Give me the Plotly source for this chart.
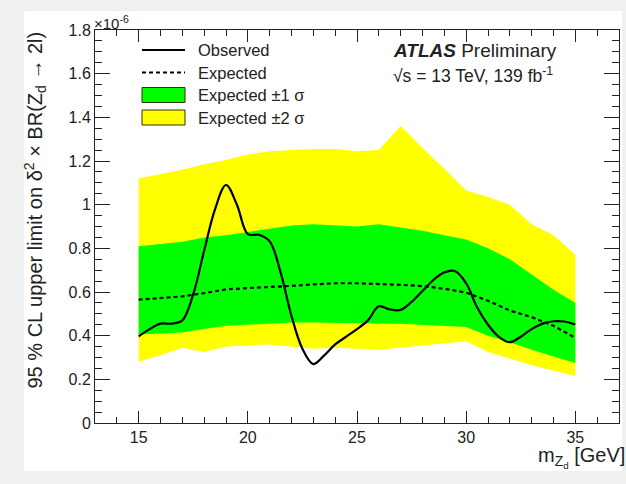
import plotly.graph_objects as go

# Dark-photon mass points (GeV)
mass = [15, 16, 17, 18, 19, 20, 21, 22, 23, 24, 25, 26, 27, 28, 29, 30, 31, 32, 33, 34, 35]

# Expected limit and its bands, in units of 1e-6
expected = [0.565, 0.573, 0.58, 0.595, 0.612, 0.618, 0.622, 0.628, 0.635, 0.64, 0.64,
            0.637, 0.633, 0.627, 0.615, 0.597, 0.56, 0.515, 0.485, 0.445, 0.39]
plus1 = [0.81, 0.82, 0.83, 0.85, 0.86, 0.875, 0.89, 0.905, 0.91, 0.905, 0.90,
         0.91, 0.895, 0.88, 0.86, 0.84, 0.80, 0.75, 0.68, 0.61, 0.55]
minus1 = [0.405, 0.41, 0.415, 0.43, 0.445, 0.45, 0.455, 0.46, 0.46, 0.458, 0.458,
          0.456, 0.455, 0.45, 0.445, 0.44, 0.40, 0.37, 0.335, 0.305, 0.275]
plus2 = [1.12, 1.14, 1.16, 1.185, 1.205, 1.23, 1.245, 1.25, 1.255, 1.255, 1.245,
         1.25, 1.36, 1.26, 1.165, 1.065, 1.035, 1.0, 0.91, 0.86, 0.77]
minus2 = [0.28, 0.31, 0.345, 0.325, 0.35, 0.355, 0.36, 0.35, 0.34, 0.345, 0.34,
          0.335, 0.345, 0.355, 0.365, 0.375, 0.325, 0.295, 0.265, 0.24, 0.215]

# Observed limit, finer mass scan (units of 1e-6)
obs_mass = [15.0, 15.5, 16.0, 16.5, 17.0, 17.5, 18.0, 18.5, 19.0, 19.5, 20.0, 20.5, 21.0,
            21.5, 22.0, 22.5, 23.0, 23.5, 24.0, 24.5, 25.0, 25.5, 26.0, 26.5, 27.0, 27.5,
            28.0, 28.5, 29.0, 29.5, 30.0, 30.5, 31.0, 31.5, 32.0, 32.5, 33.0, 33.5, 34.0,
            34.5, 35.0]
observed = [0.397, 0.43, 0.455, 0.455, 0.47, 0.59, 0.79, 0.98, 1.09, 1.0, 0.865, 0.862, 0.832,
            0.69, 0.49, 0.34, 0.27, 0.31, 0.36, 0.395, 0.43, 0.47, 0.535, 0.52, 0.518, 0.555,
            0.605, 0.655, 0.69, 0.695, 0.64, 0.53, 0.45, 0.395, 0.37, 0.395, 0.43, 0.455, 0.466,
            0.465, 0.451]

y_ticks = [0, 0.2, 0.4, 0.6, 0.8, 1.0, 1.2, 1.4, 1.6, 1.8]
y_tick_text = ["0", "0.2", "0.4", "0.6", "0.8", "1", "1.2", "1.4", "1.6", "1.8"]
x_ticks = [15, 20, 25, 30, 35]

GREEN = "#00ff00"
YELLOW = "#ffff00"
FONT = "Liberation Sans, Arial, Helvetica, sans-serif"
INK = "#222222"


def band(x, lo, hi, color):
    return go.Scatter(
        x=list(x) + list(x)[::-1],
        y=list(hi) + list(lo)[::-1],
        fill="toself", fillcolor=color, mode="lines",
        line=dict(width=0, color=color), hoverinfo="skip", showlegend=False,
    )


fig = go.Figure()
fig.add_trace(band(mass, minus2, plus2, YELLOW))
fig.add_trace(band(mass, minus1, plus1, GREEN))
fig.add_trace(go.Scatter(x=mass, y=expected, mode="lines", showlegend=False,
                         line=dict(color="black", width=2.2, dash="4px,3px")))
fig.add_trace(go.Scatter(x=obs_mass, y=observed, mode="lines", showlegend=False,
                         line=dict(color="black", width=2.2, shape="spline", smoothing=1.0)))

W, H = 626, 484
L, R, T, B = 95, 7, 30, 61
pw, ph = W - L - R, H - T - B


def px(xp):
    return (xp - L) / pw


def py(yp):
    return (H - B - yp) / ph


shapes = [
    # white panel behind the figure
    dict(type="rect", xref="paper", yref="paper", x0=px(24), x1=px(622), y0=py(471), y1=py(11),
         fillcolor="white", line=dict(width=0), layer="below"),
]
annotations = []

# legend
legend_rows = [("Observed", "solid"), ("Expected", "dash"),
               ("Expected \u00b11 \u03c3", GREEN), ("Expected \u00b12 \u03c3", YELLOW)]
row_y = [50, 72.5, 95, 117.5]
for (label, kind), yy in zip(legend_rows, row_y):
    if kind == "solid":
        shapes.append(dict(type="line", xref="paper", yref="paper", x0=px(142), x1=px(185),
                           y0=py(yy), y1=py(yy), line=dict(color="black", width=2.2)))
    elif kind == "dash":
        shapes.append(dict(type="line", xref="paper", yref="paper", x0=px(142), x1=px(185),
                           y0=py(yy), y1=py(yy), line=dict(color="black", width=2.2, dash="4px,3px")))
    else:
        shapes.append(dict(type="rect", xref="paper", yref="paper", x0=px(142), x1=px(185),
                           y0=py(yy + 7.5), y1=py(yy - 7.5), fillcolor=kind,
                           line=dict(color="#333300", width=1)))
    annotations.append(dict(text=label, xref="paper", yref="paper", x=px(196), y=py(yy),
                            xanchor="left", yanchor="middle", showarrow=False,
                            font=dict(family=FONT, size=16.5, color=INK)))

annotations += [
    dict(text="<b><i>ATLAS</i></b> Preliminary", xref="paper", yref="paper",
         x=px(391), y=py(51), xanchor="left", yanchor="middle", showarrow=False,
         font=dict(family=FONT, size=19, color=INK)),
    dict(text="\u221as = 13 TeV, 139 fb<sup>-1</sup>", xref="paper", yref="paper",
         x=px(391), y=py(75), xanchor="left", yanchor="middle", showarrow=False,
         font=dict(family=FONT, size=17.5, color=INK)),
    dict(text="\u00d710<sup>-6</sup>", xref="paper", yref="paper",
         x=px(92), y=py(22), xanchor="left", yanchor="middle", showarrow=False,
         font=dict(family=FONT, size=15, color=INK)),
    dict(text="m<sub>Z<sub>d</sub></sub> [GeV]", xref="paper", yref="paper",
         x=px(536), y=py(457), xanchor="left", yanchor="middle", showarrow=False,
         font=dict(family=FONT, size=20, color=INK)),
    dict(text="95 % CL upper limit on \u03b4<sup>2</sup> \u00d7 BR(Z<sub>d</sub> \u2192 2l)",
         xref="paper", yref="paper", x=px(35), y=1.0, xanchor="center", yanchor="top",
         textangle=-90, showarrow=False, font=dict(family=FONT, size=20, color=INK)),
]

fig.update_layout(
    width=W, height=H,
    margin=dict(l=L, r=R, t=T, b=B),
    paper_bgcolor="#eff1f1", plot_bgcolor="white",
    showlegend=False,
    shapes=shapes, annotations=annotations,
    font=dict(family=FONT, color=INK),
)
fig.update_xaxes(
    range=[13, 37], tickvals=x_ticks, ticks="inside", ticklen=12, tickwidth=1, tickcolor=INK,
    minor=dict(dtick=1, ticks="inside", ticklen=6, tickcolor=INK, tickwidth=1, showgrid=False),
    showline=True, linecolor=INK, linewidth=1, mirror="allticks", showgrid=False,
    zeroline=False, tickfont=dict(size=16, color=INK),
)
fig.update_yaxes(
    range=[0, 1.8], tickvals=y_ticks, ticktext=y_tick_text, ticks="inside", ticklen=15,
    tickwidth=1, tickcolor=INK,
    minor=dict(dtick=0.05, ticks="inside", ticklen=7, tickcolor=INK, tickwidth=1, showgrid=False),
    showline=True, linecolor=INK, linewidth=1, mirror="allticks", showgrid=False,
    zeroline=False, tickfont=dict(size=16, color=INK),
)

fig.write_html("out.html")
